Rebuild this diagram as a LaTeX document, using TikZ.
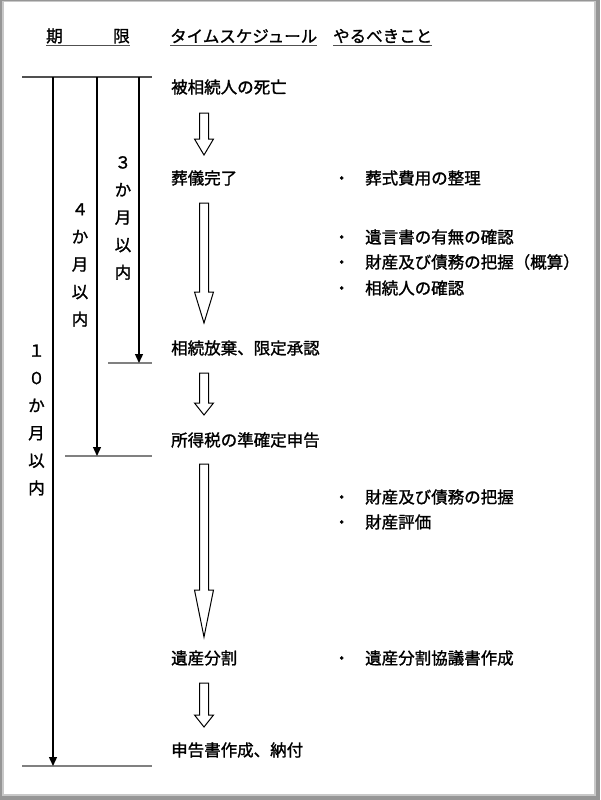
\documentclass[tikz,border=0pt]{standalone}
\usepackage{fontspec}
\setmainfont{Noto Sans CJK JP}[FakeBold=1.3]
\usetikzlibrary{arrows.meta}
\definecolor{framegray}{RGB}{150,150,150}
\definecolor{framelight}{RGB}{200,200,200}
\definecolor{endgray}{RGB}{128,128,128}
\definecolor{topgray}{RGB}{80,80,80}
\newcommand\holarrow[4]{%
  \draw[hollow] ({#1-4.5},#2) -- ({#1+4.5},#2) -- ({#1+4.5},#3) -- ({#1+9.5},#3)
    -- (#1,#4) -- ({#1-9.5},#3) -- ({#1-4.5},#3) -- cycle;}
\begin{document}
\begin{tikzpicture}[x=1pt,y=-1pt,
  lbl/.style={anchor=west, inner sep=0pt, font=\fontsize{16.5}{20}\selectfont},
  hdr/.style={anchor=west, inner sep=0pt, font=\fontsize{16.5}{20}\selectfont},
  vlbl/.style={inner sep=0pt, align=center, font=\fontsize{16.5}{27.5}\selectfont},
  tline/.style={line width=1.3pt, -{Triangle[length=9pt,width=8pt]}},
  endline/.style={line width=1.2pt, draw=endgray},
  uline/.style={line width=1.2pt, draw=topgray},
  hollow/.style={draw=black, line width=1pt, fill=white, line join=miter}]
\useasboundingbox (0,0) rectangle (600,800);
% frame
\fill[framegray] (0,0) rectangle (600,800);
\fill[framelight] (1.5,1) rectangle (596,796);
\fill[white] (3.5,2.5) rectangle (594,793.5);

% header
\node[hdr] (hkigen) at (46,36) {期\hspace*{50.5pt}限};
\node[hdr] (hsched) at (170,36) {タイムスケジュール};
\node[hdr] (htodo) at (333,36) {やるべきこと};
\draw[uline] ([yshift=-2pt]hkigen.south west) -- ([yshift=-2pt]hkigen.south east);
\draw[uline] ([yshift=-2pt]hsched.south west) -- ([yshift=-2pt]hsched.south east);
\draw[uline] ([yshift=-2pt]htodo.south west) -- ([yshift=-2pt]htodo.south east);

% period lines
\coordinate (tl) at (22,77);
\coordinate (tr) at (152,77);
\draw[uline] (tl) -- (tr);
\coordinate (t3) at (139,77);
\coordinate (t4) at (97,77);
\coordinate (t10) at (53,77);
\coordinate (e3l) at (108,363); \coordinate (e3r) at (152,363); \coordinate (e3) at (139,363);
\coordinate (e4l) at (65,456);  \coordinate (e4r) at (152,456); \coordinate (e4) at (97,456);
\coordinate (e10l) at (22,766); \coordinate (e10r) at (152,766); \coordinate (e10) at (53,766);
\draw[endline] (e3l) -- (e3r);
\draw[endline] (e4l) -- (e4r);
\draw[endline] (e10l) -- (e10r);
\draw[tline] (t3) -- (e3);
\draw[tline] (t4) -- (e4);
\draw[tline] (t10) -- (e10);

\node[vlbl] (p3) at (123,218) {３\\か\\月\\以\\内};
\node[vlbl] (p4) at (80,265) {４\\か\\月\\以\\内};
\node[vlbl] (p10) at (36.5,420) {１\\０\\か\\月\\以\\内};

% steps
\node[lbl] (s1) at (171,87) {被相続人の死亡};
\node[lbl] (s2) at (171,178) {葬儀完了};
\node[lbl] (s3) at (171,348) {相続放棄、限定承認};
\node[lbl] (s4) at (171,440) {所得税の準確定申告};
\node[lbl] (s5) at (171,658) {遺産分割};
\node[lbl] (s6) at (171,750) {申告書作成、納付};

\holarrow{204}{113}{139}{155}
\holarrow{204}{203}{292}{323}
\holarrow{204}{373}{403}{415}
\holarrow{204}{464}{590}{637}
\holarrow{204}{683}{715}{727}

% to-do items
\node[lbl] (d1) at (333.25,178) {・\hspace*{15.25pt}葬式費用の整理};
\node[lbl] (d2) at (333.25,237) {・\hspace*{15.25pt}遺言書の有無の確認};
\node[lbl] (d3) at (333.25,262) {・\hspace*{15.25pt}財産及び債務の把握（概算）};
\node[lbl] (d4) at (333.25,288) {・\hspace*{15.25pt}相続人の確認};
\node[lbl] (d5) at (333.25,497) {・\hspace*{15.25pt}財産及び債務の把握};
\node[lbl] (d6) at (333.25,522) {・\hspace*{15.25pt}財産評価};
\node[lbl] (d7) at (333.25,658) {・\hspace*{15.25pt}遺産分割協議書作成};
\end{tikzpicture}
\end{document}
